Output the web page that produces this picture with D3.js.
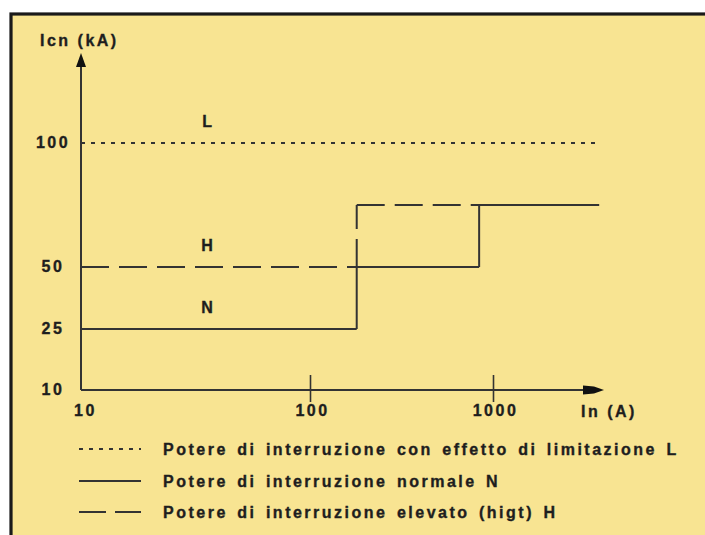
<!DOCTYPE html>
<html>
<head>
<meta charset="utf-8">
<script src="https://cdn.jsdelivr.net/npm/d3@7"></script>
<style>
  body { margin: 0; background: #fff; }
  svg text { font-family: "Liberation Sans", Arial, sans-serif; font-weight: bold; font-size: 16px; letter-spacing: 2.5px; word-spacing: 2.5px; fill: #1e1e1e; stroke: #1e1e1e; stroke-width: 0.35px; }
</style>
</head>
<body>
<div id="main"></div>
<script>
// values
const xTicks = [10, 100, 1000];
const yTicks = [10, 25, 50, 100];
const lBreaks = [10, 3800];
const lValues = [100];
const nBreaks = [10, 180, 840, 3800];
const nValues = [25, 50, 75];
const hBreaks = [10, 180, 3800];
const hValues = [50, 75];
const seriesNames = ["L", "H", "N"];
const labelAt = 36;
const legendLabels = [
  "Potere di interruzione con effetto di limitazione L",
  "Potere di interruzione normale N",
  "Potere di interruzione elevato (higt) H"
];

width = 705;
height = 535;
ink = "#333";

x = d3.scaleLog()
  .domain(xTicks)
  .range([81, 310, 493]);

y = d3.scaleLinear()
  .domain(yTicks)
  .range([390, 329, 267, 143]);

// horizontal and vertical pieces of a step line
function segments(breaks, values) {
  let segs = [];
  values.forEach((v, i) => {
    if (i > 0) segs.push([[breaks[i], values[i - 1]], [breaks[i], v]]);
    segs.push([[breaks[i], v], [breaks[i + 1], v]]);
  });
  return segs;
}

series = [
  {name: seriesNames[0], breaks: lBreaks, values: lValues, dash: "4,6"},
  {name: seriesNames[1], breaks: hBreaks, values: hValues, dash: "28,10"},
  {name: seriesNames[2], breaks: nBreaks, values: nValues, dash: null}
];

const svg = d3.select("#main").append("svg")
  .attr("width", width)
  .attr("height", height);

svg.append("rect")
  .attr("x", 11).attr("y", 14)
  .attr("width", width).attr("height", height)
  .attr("fill", "#f8e492")
  .attr("stroke", "#1a1a1a")
  .attr("stroke-width", 3.2);

// y axis with arrow
svg.append("line")
  .attr("x1", x(10)).attr("x2", x(10))
  .attr("y1", y(10)).attr("y2", 66)
  .attr("stroke", ink).attr("stroke-width", 2);
svg.append("path")
  .attr("d", `M${x(10)},53 L${x(10) + 5},67 L${x(10) - 5},67 Z`)
  .attr("fill", "#111");

svg.append("text")
  .attr("x", 40).attr("y", 46)
  .style("word-spacing", "0px")
  .text("Icn (kA)");

svg.append("g")
  .selectAll("text")
  .data(yTicks)
  .join("text")
  .attr("x", 53)
  .attr("y", d => y(d) + 5)
  .attr("text-anchor", "middle")
  .text(d => d);

// x axis with arrow
xAxis = g => g
  .attr("transform", `translate(0,${y(10)})`)
  .call(d3.axisBottom(x).tickValues(xTicks).tickFormat(d3.format("d")).tickSize(0))
  .call(g => g.select(".domain").remove())
  .call(g => g.selectAll(".tick line")
    .filter(d => d > 10)
    .attr("y1", -15).attr("y2", 12)
    .attr("stroke", ink).attr("stroke-width", 1.6))
  .call(g => g.selectAll(".tick text")
    .attr("y", 26).attr("dy", null)
    .attr("dx", d => d === 10 ? 4 : 2)
    .attr("font-size", null).attr("font-family", null)
    .attr("fill", null));

svg.append("line")
  .attr("x1", x(10)).attr("x2", 585)
  .attr("y1", y(10)).attr("y2", y(10))
  .attr("stroke", ink).attr("stroke-width", 2);
svg.append("path")
  .attr("d", `M583,${y(10) - 4.5} L594,${y(10) - 3.5} L604,${y(10)} L594,${y(10) + 3.5} L583,${y(10) + 4.5} Z`)
  .attr("fill", "#111");

svg.append("g").call(xAxis);

svg.append("text")
  .attr("x", 581).attr("y", y(10) + 27)
  .style("word-spacing", "0px")
  .text("In (A)");

// step lines
series.forEach(s => {
  svg.append("g")
    .selectAll("line")
    .data(segments(s.breaks, s.values))
    .join("line")
    .attr("x1", d => x(d[0][0])).attr("y1", d => y(d[0][1]))
    .attr("x2", d => x(d[1][0])).attr("y2", d => y(d[1][1]))
    .attr("stroke", ink)
    .attr("stroke-width", 2)
    .attr("stroke-dasharray", s.dash);
});

svg.append("g")
  .selectAll("text")
  .data(series)
  .join("text")
  .attr("x", x(labelAt))
  .attr("y", d => y(d.values[0]) - 16)
  .attr("text-anchor", "middle")
  .text(d => d.name);

// legend
legendDash = ["4,6", null, "27,9"];
legendY = [449, 481, 512];

legend = svg.append("g")
  .selectAll("g")
  .data(legendLabels)
  .join("g")
  .attr("transform", (d, i) => `translate(0,${legendY[i]})`);

legend.append("line")
  .attr("x1", 79).attr("x2", 141)
  .attr("stroke", ink).attr("stroke-width", 2)
  .attr("stroke-dasharray", (d, i) => legendDash[i]);

legend.append("text")
  .attr("x", 163).attr("y", 6)
  .text(d => d);
</script>
</body>
</html>
